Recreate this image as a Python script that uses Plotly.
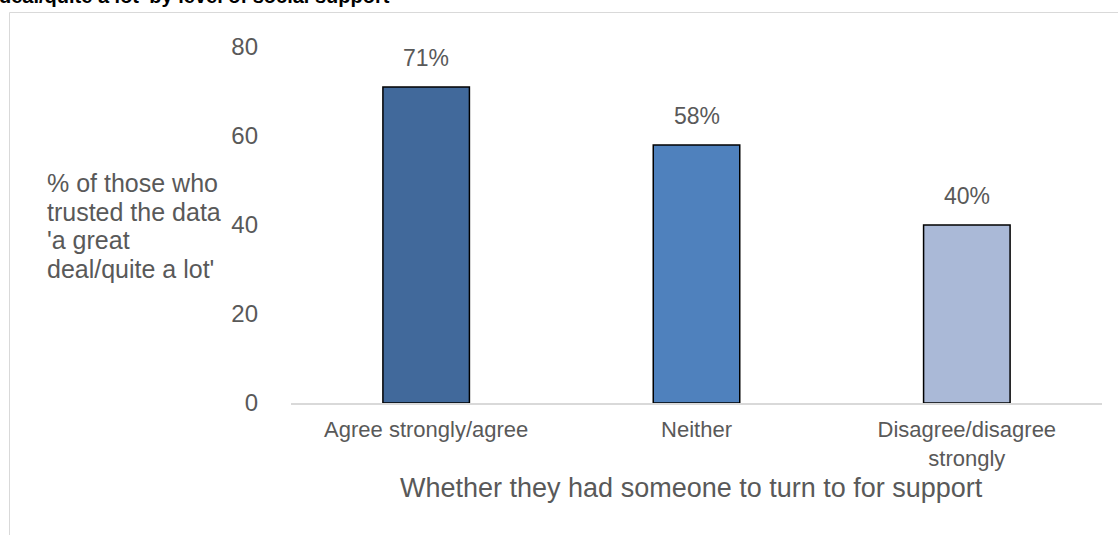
import plotly.graph_objects as go

# Share who trusted the data 'a great deal/quite a lot', by level of social support
categories = ["Agree strongly/agree", "Neither", "Disagree/disagree<br>strongly"]
values = [71, 58, 40]
bar_colors = ["#41699b", "#4f81bd", "#aab9d7"]
y_ticks = [0, 20, 40, 60, 80]
y_title_lines = ["% of those who", "trusted the data", "'a great", "deal/quite a lot'"]

W, H = 1118, 535
L, R, T, B = 291, 16, 47, 132
plot_w = W - L - R
plot_h = H - T - B


def px_x(px):
    return (px - L) / plot_w


def px_y(py):
    return (H - B - py) / plot_h


FONT = "Liberation Sans, Arial, sans-serif"
GREY = "#595959"

fig = go.Figure()
fig.add_trace(go.Bar(
    x=categories,
    y=values,
    width=0.32,
    marker=dict(color=bar_colors, line=dict(color="#000000", width=1.5)),
    hoverinfo="skip",
))

# Value labels above each bar
for c, v in zip(categories, values):
    fig.add_annotation(
        x=c, y=v, xref="x", yref="y", text=f"{v}%", showarrow=False,
        yanchor="middle", yshift=29, font=dict(family=FONT, size=23, color=GREY),
    )

# Y-axis title, one line per annotation for tight line spacing
for i, line in enumerate(y_title_lines):
    fig.add_annotation(
        x=px_x(45), y=px_y(183 + i * 28.5), xref="paper", yref="paper",
        text=line, showarrow=False, xanchor="left", yanchor="middle", align="left",
        font=dict(family=FONT, size=25, color=GREY),
    )

# X-axis title
fig.add_annotation(
    x=px_x(691), y=px_y(488), xref="paper", yref="paper",
    text="Whether they had someone to turn to for support",
    showarrow=False, xanchor="center", yanchor="middle",
    font=dict(family=FONT, size=27, color=GREY),
)

# Chart title (runs above the visible area)
fig.add_annotation(
    x=px_x(-3), y=px_y(9), xref="paper", yref="paper",
    text="<b>deal/quite a lot' by level of social support</b>",
    showarrow=False, xanchor="left", yanchor="bottom",
    font=dict(family=FONT, size=20, color="#000000"),
)

# Chart frame
fig.add_shape(
    type="rect", xref="paper", yref="paper",
    x0=px_x(9.5), x1=px_x(1130), y0=px_y(560), y1=px_y(12.5),
    line=dict(color="#d9d9d9", width=1), layer="below",
)

fig.update_layout(
    width=W, height=H,
    margin=dict(l=L, r=R, t=T, b=B, pad=0),
    paper_bgcolor="#ffffff", plot_bgcolor="#ffffff",
    showlegend=False,
    bargap=0.68,
    font=dict(family=FONT, color=GREY),
)
fig.update_xaxes(
    showgrid=False, showline=True, linecolor="#d9d9d9", linewidth=1.5,
    ticks="", tickfont=dict(family=FONT, size=22, color=GREY),
    ticklabelstandoff=6,
)
fig.update_yaxes(
    range=[0, 80], tickvals=y_ticks, showgrid=False, zeroline=False,
    showline=False, ticks="", tickfont=dict(family=FONT, size=24, color=GREY),
    ticklabelstandoff=32,
)

fig.write_html("out.html")
